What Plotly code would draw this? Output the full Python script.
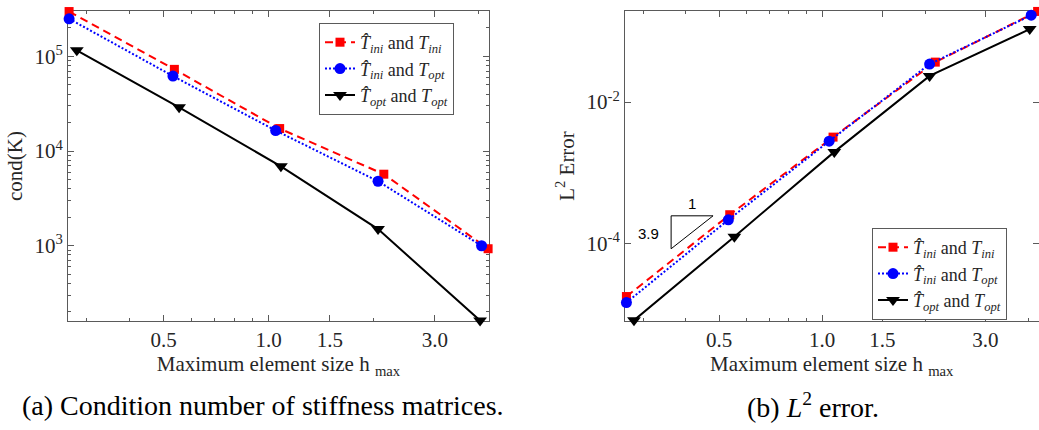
import plotly.graph_objects as go

# ---------------- data ----------------
# h_max values per series (log x axis)
h_ini_ini = [0.268, 0.537, 1.076, 2.14, 4.26]
h_ini_opt = [0.268, 0.532, 1.048, 2.06, 4.08]
h_opt_opt = [0.282, 0.554, 1.085, 2.06, 4.04]

# (a) condition number of stiffness matrices
cond_ini_ini = [2.98e5, 7.3e4, 1.73e4, 5.7e3, 930]
cond_ini_opt = [2.5e5, 6.2e4, 1.65e4, 4.8e3, 1000]
cond_opt_opt = [1.16e5, 2.9e4, 6.9e3, 1.5e3, 162]

# (b) L2 error
err_ini_ini = [1.8e-5, 2.57e-4, 3.2e-3, 3.66e-2, 0.19]
err_ini_opt = [1.48e-5, 2.18e-4, 2.8e-3, 3.43e-2, 0.168]
err_opt_opt = [8.3e-6, 1.26e-4, 1.98e-3, 2.34e-2, 0.107]

series_names = [
    "<i>T\u0302</i><sub><i>ini</i></sub> and <i>T</i><sub><i>ini</i></sub>",
    "<i>T\u0302</i><sub><i>ini</i></sub> and <i>T</i><sub><i>opt</i></sub>",
    "<i>T\u0302</i><sub><i>opt</i></sub> and <i>T</i><sub><i>opt</i></sub>",
]

x_tickvals = [0.5, 1.0, 1.5, 3.0]
x_ticktext = ["0.5", "1.0", "1.5", "3.0"]
x_minor = [0.3, 0.4, 0.6, 0.7, 0.8, 0.9, 2, 4]

yl_tickvals = [1e3, 1e4, 1e5]
yl_ticktext = ["10<sup>3</sup>", "10<sup>4</sup>", "10<sup>5</sup>"]
yl_minor = [m * 10 ** e for e in (2, 3, 4, 5) for m in range(2, 10)]

yr_tickvals = [1e-4, 1e-2]
yr_ticktext = ["10<sup>-4</sup>", "10<sup>-2</sup>"]

# slope triangle (annotation) in data units of panel (b)
tri_x = [0.362, 0.480, 0.362, 0.362]
tri_y = [2.48e-4, 2.48e-4, 8.5e-5, 2.48e-4]

# ---------------- styles ----------------
W, H = 1039, 430
AX = "#5a5a5a"
TXT = "#262626"
SERIF = "Liberation Serif, Times New Roman, serif"
styles = [
    dict(color="#ff0000", dash="8px,5px", symbol="square", size=9),
    dict(color="#0000ff", dash="2px,2px", symbol="circle", size=11),
    dict(color="#000000", dash="solid", symbol="triangle-down", size=12),
]

fig = go.Figure()

xs = [h_ini_ini, h_ini_opt, h_opt_opt]
left_ys = [cond_ini_ini, cond_ini_opt, cond_opt_opt]
right_ys = [err_ini_ini, err_ini_opt, err_opt_opt]

for i in range(3):
    st = styles[i]
    fig.add_trace(go.Scatter(
        x=xs[i], y=left_ys[i], mode="lines+markers", name=series_names[i],
        line=dict(color=st["color"], dash=st["dash"], width=2),
        marker=dict(symbol=st["symbol"], size=st["size"], color=st["color"]),
        xaxis="x", yaxis="y", legend="legend", cliponaxis=False))
for i in range(3):
    st = styles[i]
    fig.add_trace(go.Scatter(
        x=xs[i], y=right_ys[i], mode="lines+markers", name=series_names[i],
        line=dict(color=st["color"], dash=st["dash"], width=2),
        marker=dict(symbol=st["symbol"], size=st["size"], color=st["color"]),
        xaxis="x2", yaxis="y2", legend="legend2", cliponaxis=False))

fig.add_trace(go.Scatter(x=tri_x, y=tri_y, mode="lines", showlegend=False,
                         line=dict(color="black", width=1), xaxis="x2", yaxis="y2",
                         hoverinfo="skip"))

common_axis = dict(
    type="log", showline=True, linecolor=AX, linewidth=1, mirror="allticks",
    ticks="inside", ticklen=6, tickcolor=AX, showgrid=False, zeroline=False,
    tickfont=dict(family=SERIF, size=21, color=TXT), layer="below traces",
)

xl = (68 / W, 489 / W)
xr = (625 / W, 1038.5 / W)
yd = ((H - 321) / H, (H - 11) / H)

title_font = dict(family=SERIF, size=21, color=TXT)

fig.update_layout(
    width=W, height=H, margin=dict(l=0, r=0, t=0, b=0),
    paper_bgcolor="white", plot_bgcolor="white",
    xaxis=dict(common_axis, domain=xl, anchor="y", range=[-0.575, 0.632],
               tickmode="array", tickvals=x_tickvals, ticktext=x_ticktext,
               minor=dict(tickvals=x_minor, ticks="inside", ticklen=3, tickcolor=AX),
               title=dict(text="Maximum element size h <sub>max</sub>",
                          font=title_font, standoff=5)),
    yaxis=dict(common_axis, domain=yd, anchor="x", range=[2.205, 5.48],
               tickmode="array", tickvals=yl_tickvals, ticktext=yl_ticktext,
               minor=dict(tickvals=yl_minor, ticks="inside", ticklen=3, tickcolor=AX),
               title=dict(text="cond(K)", font=title_font, standoff=6)),
    xaxis2=dict(common_axis, domain=xr, anchor="y2", range=[-0.576, 0.632],
                tickmode="array", tickvals=x_tickvals, ticktext=x_ticktext,
                minor=dict(tickvals=x_minor, ticks="inside", ticklen=3, tickcolor=AX),
                title=dict(text="Maximum element size h <sub>max</sub>",
                           font=title_font, standoff=5)),
    yaxis2=dict(common_axis, domain=yd, anchor="x2", range=[-5.09, -0.715],
                tickmode="array", tickvals=yr_tickvals, ticktext=yr_ticktext,
                title=dict(text="L<sup>2</sup> Error", font=title_font, standoff=6)),
    legend=dict(x=454 / W, y=(H - 23) / H, xanchor="right", yanchor="top",
                bgcolor="white", bordercolor=AX, borderwidth=1,
                font=dict(family=SERIF, size=18, color=TXT), tracegroupgap=0,
                itemwidth=30),
    legend2=dict(x=1007 / W, y=(H - 228) / H, xanchor="right", yanchor="top",
                 bgcolor="white", bordercolor=AX, borderwidth=1,
                 font=dict(family=SERIF, size=18, color=TXT), tracegroupgap=0,
                 itemwidth=30),
    showlegend=True,
)

fig.add_annotation(text="1", x=692 / W, y=(H - 203) / H, xref="paper", yref="paper",
                   xanchor="center", yanchor="middle",
                   showarrow=False, font=dict(family="Liberation Sans, Arial, sans-serif",
                                              size=15, color="black"))
fig.add_annotation(text="3.9", x=648 / W, y=(H - 233) / H, xref="paper", yref="paper",
                   xanchor="center", yanchor="middle",
                   showarrow=False, font=dict(family="Liberation Sans, Arial, sans-serif",
                                              size=15, color="black"))

fig.add_annotation(text="(a) Condition number of stiffness matrices.", x=263 / W, y=(H - 405) / H,
                   xref="paper", yref="paper", xanchor="center", yanchor="middle",
                   showarrow=False, font=dict(family=SERIF, size=28, color="black"))
fig.add_annotation(text="(b) <i>L</i><sup>2</sup> error.", x=813 / W, y=(H - 405) / H,
                   xref="paper", yref="paper", xanchor="center", yanchor="middle",
                   showarrow=False, font=dict(family=SERIF, size=28, color="black"))

fig.write_html("out.html")
